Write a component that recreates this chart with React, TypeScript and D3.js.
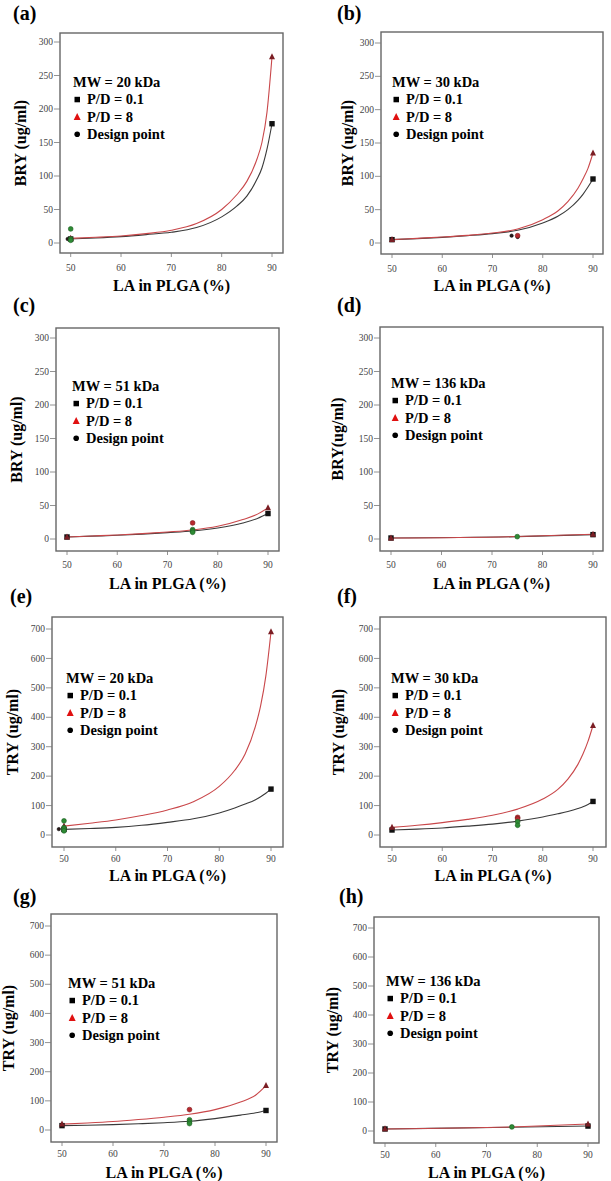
import { line, curveMonotoneX, scaleLinear } from "d3";

// tick values
const laTicks = [50, 60, 70, 80, 90];
const bryTicks = [0, 50, 100, 150, 200, 250, 300];
const tryTicks = [0, 100, 200, 300, 400, 500, 600, 700];

// molecular weight and y title of each panel
const mwLabels = ["20", "30", "51", "136", "20", "30", "51", "136"];
const yTitles = [
  "BRY (ug/ml)",
  "BRY (ug/ml)",
  "BRY (ug/ml)",
  "BRY(ug/ml)",
  "TRY (ug/ml)",
  "TRY (ug/ml)",
  "TRY (ug/ml)",
  "TRY (ug/ml)",
];

// predicted curves: LA % -> yield, P/D = 0.1 (low) and P/D = 8 (high)
const aX = [50, 55, 60, 65, 70, 75, 80, 83, 85, 87, 88, 89, 90];
const aLow = [6, 7.5, 9.5, 12.5, 16, 23, 39, 55, 70, 95, 112, 140, 178];
const aHigh = [7, 8.5, 10.5, 14, 19, 29, 50, 72, 92, 125, 150, 195, 278];

const bX = [50, 55, 60, 65, 70, 75, 80, 83, 85, 87, 88, 89, 90];
const bLow = [5, 6.5, 8.5, 11, 14, 19, 30, 40, 50, 64, 73, 84, 96];
const bHigh = [5, 7, 9, 11.5, 15, 21, 35, 48, 62, 82, 96, 112, 135];

const cX = [50, 55, 60, 65, 70, 75, 80, 85, 88, 90];
const cLow = [3, 4.3, 5.5, 7.3, 9.5, 12, 16.5, 24, 31, 38];
const cHigh = [3, 4.5, 6, 8, 10.5, 13.5, 19, 29, 37.5, 46.5];

const dX = [50, 75, 90];
const dLow = [1.5, 3.5, 6.5];
const dHigh = [1.5, 3.7, 7];

const eX = [50, 55, 60, 65, 70, 75, 80, 83, 85, 87, 88, 89, 90];
const eLow = [19, 22, 26, 33, 43, 55, 75, 92, 105, 120, 130, 142, 156];
const eHigh = [30, 40, 51, 66, 85, 113, 165, 220, 275, 370, 440, 540, 690];

const fX = [50, 55, 60, 65, 70, 75, 80, 83, 85, 87, 88, 89, 90];
const fLow = [17, 20, 24, 30, 37, 47, 61, 72, 80, 90, 96, 104, 114];
const fHigh = [26, 33, 42, 53, 67, 88, 122, 155, 190, 240, 275, 318, 372];

const gX = [50, 55, 60, 65, 70, 75, 80, 85, 88, 90];
const gLow = [15, 16.5, 18.5, 21.5, 25, 30, 39, 51, 59, 67];
const gHigh = [20, 24, 29, 36, 44, 54, 70, 96, 120, 152];

const hX = [50, 75, 90];
const hLow = [7, 13, 17];
const hHigh = [7, 14, 24];

// design points: [LA %, value, group] group 0 = below, 1 = above, 2 = other
const aDesign = [
  [49.4, 6, 2],
  [50, 21, 0],
  [50, 6, 0],
  [50, 4, 0],
];
const bDesign = [
  [73.8, 11, 2],
  [75, 9, 2],
  [75, 11, 1],
];
const cDesign = [
  [75, 24, 1],
  [75, 14, 0],
  [75, 12, 0],
  [75, 10, 0],
];
const dDesign = [[75, 3.5, 0]];
const eDesign = [
  [49, 20, 2],
  [50, 48, 0],
  [50, 25, 0],
  [50, 20, 0],
  [50, 14, 0],
];
const fDesign = [
  [75, 60, 1],
  [75, 55, 1],
  [75, 45, 0],
  [75, 33, 0],
];
const gDesign = [
  [75, 70, 1],
  [75, 35, 0],
  [75, 28, 0],
  [75, 22, 0],
];
const hDesign = [[75, 14, 0]];

const curveX = [aX, bX, cX, dX, eX, fX, gX, hX];
const lowY = [aLow, bLow, cLow, dLow, eLow, fLow, gLow, hLow];
const highY = [aHigh, bHigh, cHigh, dHigh, eHigh, fHigh, gHigh, hHigh];
const designs = [aDesign, bDesign, cDesign, dDesign, eDesign, fDesign, gDesign, hDesign];
const letters = ["(a)", "(b)", "(c)", "(d)", "(e)", "(f)", "(g)", "(h)"];

// layout of each panel in page pixels
const layout = [
  { fx0: 60, fx1: 283, fy0: 33, fy1: 253, x50: 70.7, x90: 272, y0: 243, yTop: 42, lx: 13, ly: 20, tx: 20, tb: 291, legX: 73, legY: 87, tk: 18 },
  { fx0: 381, fx1: 603, fy0: 32, fy1: 254, x50: 392, x90: 593, y0: 243, yTop: 43, lx: 337, ly: 20, tx: 347, tb: 291, legX: 392, legY: 87, tk: 18 },
  { fx0: 56, fx1: 279, fy0: 328, fy1: 551, x50: 67, x90: 268, y0: 539, yTop: 338, lx: 13, ly: 312, tx: 16, tb: 589, legX: 72, legY: 391, tk: 17 },
  { fx0: 380, fx1: 603, fy0: 327, fy1: 551, x50: 391, x90: 593, y0: 539, yTop: 338, lx: 337, ly: 312, tx: 337, tb: 589, legX: 391, legY: 388, tk: 17 },
  { fx0: 52, fx1: 283, fy0: 617, fy1: 847, x50: 64, x90: 271, y0: 835, yTop: 629, lx: 10, ly: 603, tx: 12, tb: 881, legX: 66, legY: 683, tk: 15 },
  { fx0: 380, fx1: 606, fy0: 617, fy1: 847, x50: 392, x90: 593, y0: 835, yTop: 629, lx: 337, ly: 603, tx: 338, tb: 881, legX: 391, legY: 683, tk: 15 },
  { fx0: 51, fx1: 277, fy0: 914, fy1: 1142, x50: 62, x90: 266, y0: 1130, yTop: 926, lx: 13, ly: 903, tx: 8, tb: 1178, legX: 68, legY: 988, tk: 15 },
  { fx0: 374, fx1: 599, fy0: 917, fy1: 1143, x50: 385, x90: 588, y0: 1131, yTop: 928, lx: 339, ly: 903, tx: 332, tb: 1178, legX: 386, legY: 986, tk: 15 },
];

const serif = '"Liberation Serif", "Times New Roman", Times, serif';
const groupFill = ["#2e8b35", "#b8282e", "#2a1818"];
const groupStroke = ["#1b5e20", "#7a1a1a", "#000"];

function Panel({ i }: { i: number }) {
  const L = layout[i];
  const ticks = i < 4 ? bryTicks : tryTicks;
  const x = scaleLinear().domain([50, 90]).range([L.x50, L.x90]);
  const y = scaleLinear()
    .domain([0, ticks[ticks.length - 1]])
    .range([L.y0, L.yTop]);
  const xs = curveX[i];
  const low = lowY[i];
  const high = highY[i];
  const path = line<number>()
    .x((_, k) => x(xs[k]))
    .y((v) => y(v))
    .curve(curveMonotoneX);
  const last = xs.length - 1;
  const cy = (L.fy0 + L.fy1) / 2;

  const tri = (cx: number, cyy: number, s: number) =>
    `M${cx},${cyy - s * 0.6}L${cx + s / 2},${cyy + s * 0.4}L${cx - s / 2},${cyy + s * 0.4}Z`;

  return (
    <g>
      <text x={L.lx} y={L.ly} fontFamily={serif} fontWeight="bold" fontSize={20}>
        {letters[i]}
      </text>
      <rect
        x={L.fx0}
        y={L.fy0}
        width={L.fx1 - L.fx0}
        height={L.fy1 - L.fy0}
        fill="none"
        stroke="#666"
        strokeWidth={1.4}
      />
      {ticks.map((t) => (
        <g key={"y" + t}>
          <line x1={L.fx0 - 6} x2={L.fx0} y1={y(t)} y2={y(t)} stroke="#777" strokeWidth={0.8} />
          <text
            x={L.fx0 - 7}
            y={y(t)}
            dy="0.33em"
            textAnchor="end"
            fontFamily={serif}
            fontSize={9.5}
            fill="#444"
          >
            {t}
          </text>
        </g>
      ))}
      {laTicks.map((t) => (
        <g key={"x" + t}>
          <line x1={x(t)} x2={x(t)} y1={L.fy1} y2={L.fy1 + 4} stroke="#777" strokeWidth={0.8} />
          <text
            x={x(t)}
            y={L.fy1 + L.tk}
            textAnchor="middle"
            fontFamily={serif}
            fontSize={9.5}
            fill="#444"
          >
            {t}
          </text>
        </g>
      ))}
      <text
        x={(L.fx0 + L.fx1) / 2}
        y={L.tb}
        textAnchor="middle"
        fontFamily={serif}
        fontWeight="bold"
        fontSize={16}
      >
        LA in PLGA (%)
      </text>
      <text
        transform={`translate(${L.tx},${cy}) rotate(-90)`}
        dy="0.35em"
        textAnchor="middle"
        fontFamily={serif}
        fontWeight="bold"
        fontSize={16}
      >
        {yTitles[i]}
      </text>

      {/* legend */}
      <g fontFamily={serif} fontWeight="bold" fontSize={14.5}>
        <text x={L.legX} y={L.legY}>
          MW = {mwLabels[i]} kDa
        </text>
        <rect x={L.legX + 1.5} y={L.legY + 17.3 - 7.5} width={5.5} height={5.5} fill="#000" />
        <text x={L.legX + 14} y={L.legY + 17.3}>
          P/D = 0.1
        </text>
        <path d={tri(L.legX + 4.2, L.legY + 34.6 - 4.5, 7)} fill="#e01010" />
        <text x={L.legX + 14} y={L.legY + 34.6}>
          P/D = 8
        </text>
        <circle cx={L.legX + 4.2} cy={L.legY + 51.9 - 4.6} r={2.8} fill="#000" />
        <text x={L.legX + 14} y={L.legY + 51.9}>
          Design point
        </text>
      </g>

      <path d={path(low) ?? ""} fill="none" stroke="#3a3a3a" strokeWidth={1.1} />
      <path d={path(high) ?? ""} fill="none" stroke="#c9474a" strokeWidth={1.1} />

      {[0, last].map((k) => (
        <rect
          key={"s" + k}
          x={x(xs[k]) - 2.7}
          y={y(low[k]) - 2.7}
          width={5.4}
          height={5.4}
          fill="#111"
        />
      ))}
      {[0, last].map((k) => (
        <path key={"t" + k} d={tri(x(xs[k]), y(high[k]), 6)} fill="#7b1e24" />
      ))}
      {designs[i].map((d, k) => (
        <circle
          key={"d" + k}
          cx={x(d[0])}
          cy={y(d[1])}
          r={d[2] === 2 ? 1.7 : 2.4}
          fill={groupFill[d[2]]}
          stroke={groupStroke[d[2]]}
          strokeWidth={0.6}
        />
      ))}
    </g>
  );
}

export default function App() {
  return (
    <svg
      width={611}
      height={1181}
      style={{ position: "absolute", left: 0, top: 0, background: "#fff" }}
    >
      {layout.map((_, i) => (
        <Panel key={i} i={i} />
      ))}
    </svg>
  );
}
